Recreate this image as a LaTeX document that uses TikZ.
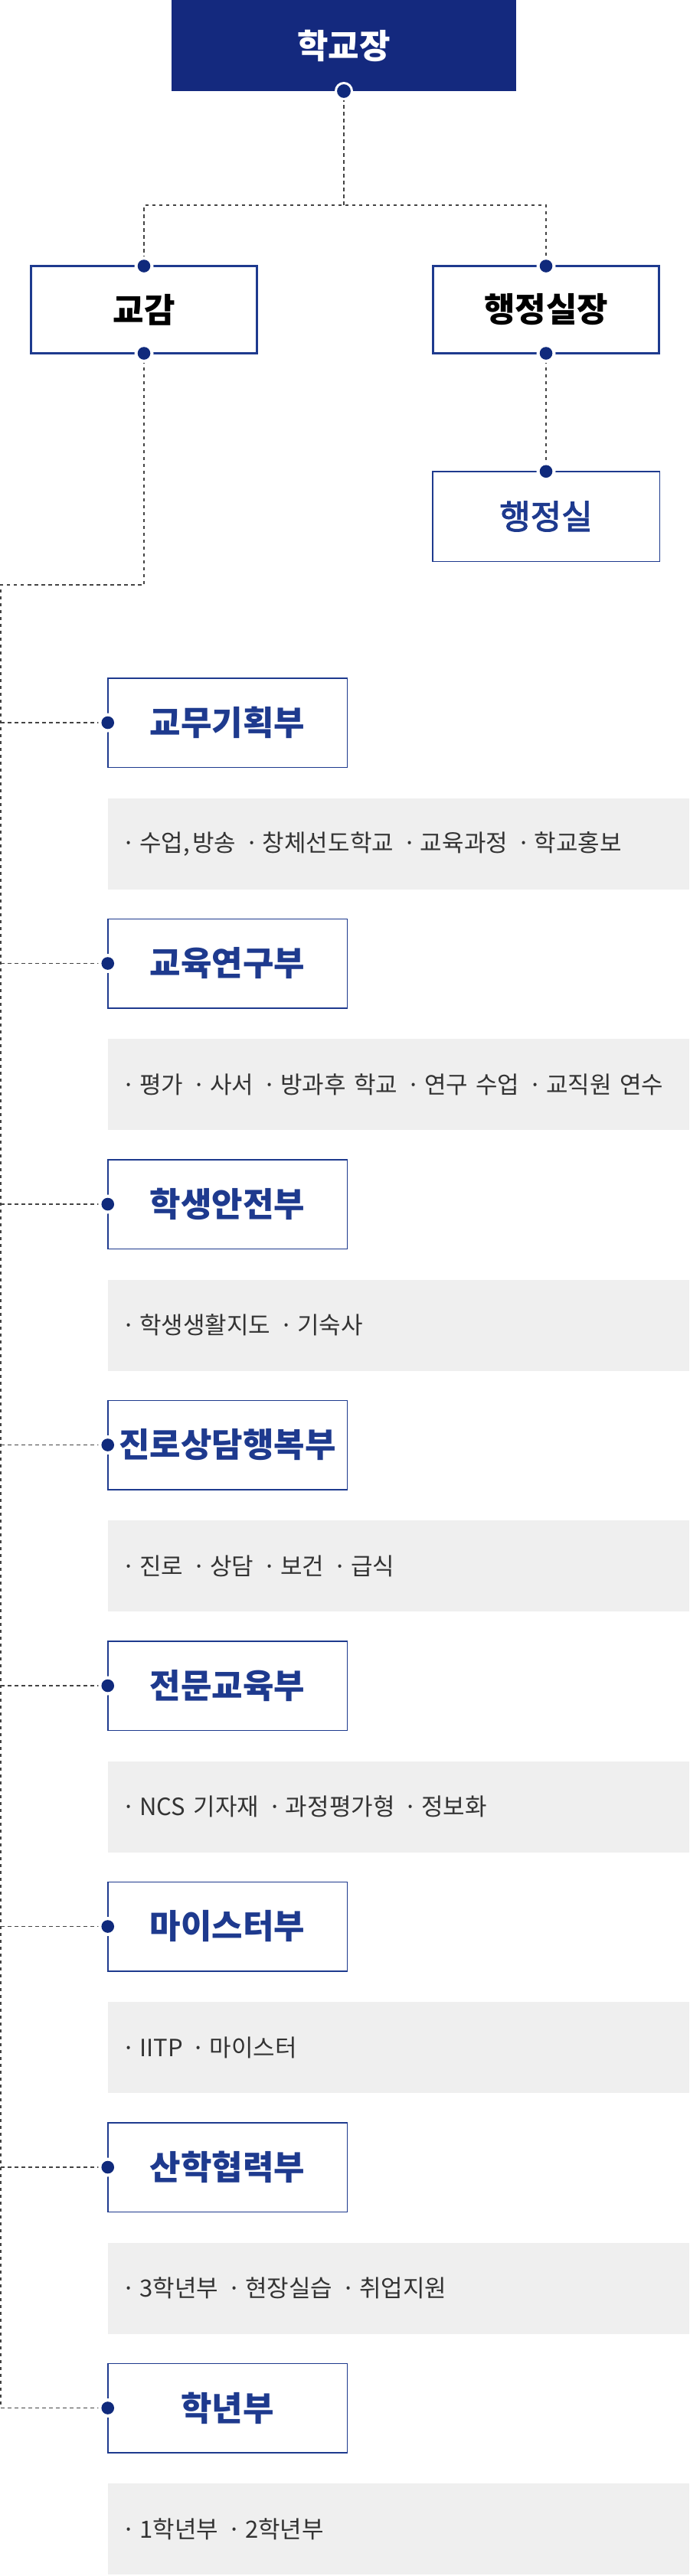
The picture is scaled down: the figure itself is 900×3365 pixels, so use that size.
\documentclass[tikz,border=0pt]{standalone}
\usepackage{fontspec}
\setmainfont{Noto Sans CJK KR}
\newfontfamily\medfont{Noto Sans CJK KR}[FakeBold=2.6]
\definecolor{navy}{HTML}{14297E}
\definecolor{deptblue}{HTML}{1E3A8E}
\definecolor{dotblue}{HTML}{102A7C}
\definecolor{linegray}{HTML}{444444}
\definecolor{itemgray}{HTML}{EFEFEF}
\definecolor{itemtext}{HTML}{333333}
% Aufzaehlungspunkt in den grauen Feldern
\newcommand{\itm}[1]{·\hspace{5.5pt}#1\hspace{12pt}}
% Verbindungspunkt mit weissem Rand
\newcommand{\knoten}[1]{\fill[white] #1 circle (12.5pt); \fill[dotblue] #1 circle (8.3pt);}
\begin{document}
\begin{tikzpicture}[x=1pt,y=-1pt,
    link/.style={draw=linegray, line width=1.6pt, dash pattern=on 4.5pt off 4.5pt},
    chiefbox/.style={fill=navy, text=white, inner sep=0pt, outer sep=0pt,
        minimum width=450pt, minimum height=119pt,
        font=\bfseries\fontsize{44}{52}\selectfont},
    leadbox/.style={draw=deptblue, line width=3pt, fill=white, text=black,
        inner sep=0pt, outer sep=0pt, minimum width=295pt, minimum height=114pt,
        font=\bfseries\fontsize{44}{52}\selectfont},
    officebox/.style={draw=deptblue, line width=1.5pt, fill=white, text=deptblue,
        inner sep=0pt, outer sep=0pt, minimum width=296.5pt, minimum height=117.5pt,
        font=\medfont\fontsize{44}{52}\selectfont},
    deptbox/.style={officebox, minimum width=312.5pt, minimum height=116.5pt,
        font=\bfseries\fontsize{44}{52}\selectfont},
    itembox/.style={fill=itemgray, text=itemtext, outer sep=0pt, inner ysep=0pt,
        inner xsep=18.5pt, text width=722pt, align=left, minimum height=119pt,
        font=\fontsize{31}{37}\selectfont}
]
    \useasboundingbox (0,0) rectangle (900,3365);

    % zeichne Leitung
    \node[chiefbox] (principal) at (449,59.5) {학교장};
    \node[leadbox] (vice) at (188,404.5) {교감};
    \node[leadbox] (admhead) at (713,404.5) {행정실장};
    \node[officebox] (admoffice) at (713,674.5) {행정실};

    % zeichne Abteilungen
    \foreach \name/\items [count=\k from 0] in {
        교무기획부/{\itm{수업,\hspace{3pt}방송}\itm{창체선도학교}\itm{교육과정}\itm{학교홍보}},
        교육연구부/{\itm{평가}\itm{사서}\itm{방과후 학교}\itm{연구 수업}\itm{교직원 연수}},
        학생안전부/{\itm{학생생활지도}\itm{기숙사}},
        진로상담행복부/{\itm{진로}\itm{상담}\itm{보건}\itm{급식}},
        전문교육부/{\itm{NCS 기자재}\itm{과정평가형}\itm{정보화}},
        마이스터부/{\itm{IITP}\itm{마이스터}},
        산학협력부/{\itm{3학년부}\itm{현장실습}\itm{취업지원}},
        학년부/{\itm{1학년부}\itm{2학년부}}} {
        \node[deptbox] (d\k) at (297,{944+314.5*\k}) {\name};
        \node[itembox] (i\k) at (520.5,{1102+314.5*\k}) {\items};
    }

    % zeichne Verbindungen
    \coordinate (split) at (449,268);
    \coordinate (bend) at (1,764);
    \draw[link] (principal.south) -- (split);
    \draw[link] (vice.north) |- (split) -| (admhead.north);
    \draw[link] (admhead.south) -- (admoffice.north);
    \draw[link] (vice.south) |- (bend) -- (bend |- d7.west) -- (d7.west);
    \foreach \k in {0,...,6} {
        \draw[link] (bend |- d\k.west) -- (d\k.west);
    }

    % zeichne Punkte
    \filldraw[fill=dotblue, draw=white, line width=3pt] (principal.south) circle (10.5pt);
    \knoten{(vice.north)}
    \knoten{(vice.south)}
    \knoten{(admhead.north)}
    \knoten{(admhead.south)}
    \knoten{(admoffice.north)}
    \foreach \k in {0,...,7} {
        \knoten{(d\k.west)}
    }
\end{tikzpicture}
\end{document}
